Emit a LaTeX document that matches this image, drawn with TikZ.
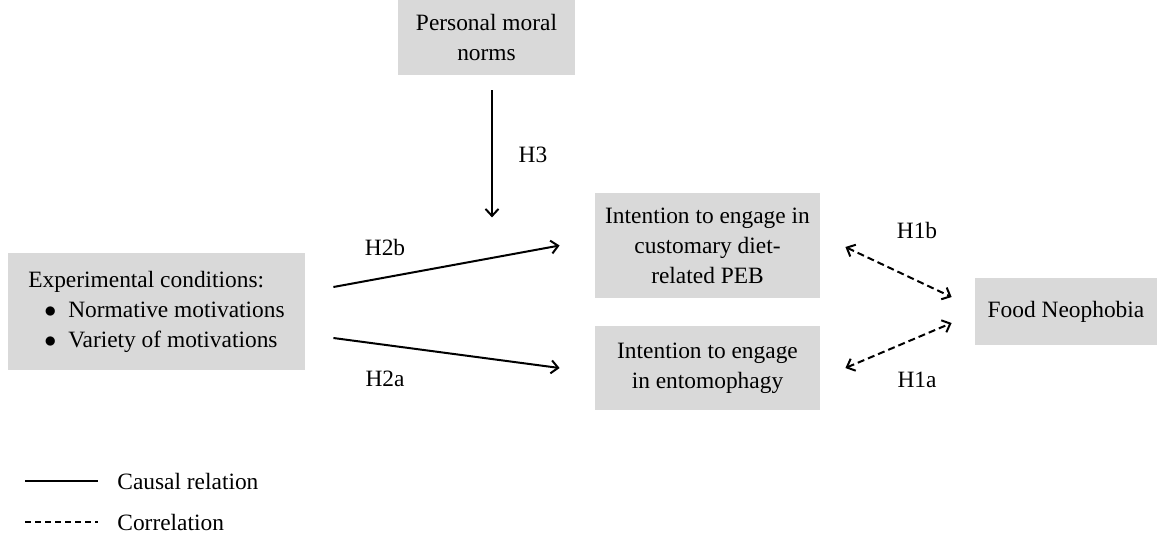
\documentclass[tikz,border=0pt]{standalone}
\usepackage{fontspec}
\setmainfont{Liberation Serif}
\usetikzlibrary{calc,arrows.meta}
\definecolor{boxgray}{RGB}{217,217,217}
\tikzstyle{box} = [rectangle, fill=boxgray, text centered, align=center, inner sep=0pt]
\tikzstyle{arrow} = [line width=1pt,->]
\tikzstyle{corr} = [line width=1pt,<->,dash pattern=on 3.5pt off 2pt]

\begin{document}
\begin{tikzpicture}[x=0.5pt, y=-0.5pt, >={Straight Barb[length=3.5pt,width=6.5pt]}, font=\fontsize{11.7pt}{15pt}\selectfont]
            \useasboundingbox (0,0) rectangle (1159,537);
            \node (norms) [box, minimum width=88.5pt, minimum height=37.5pt] at (486.5,37.5) {
                Personal moral\\
                norms
            };
            \node (cond) [box, align=left, minimum width=148.5pt, minimum height=58.5pt] at (156.5,311.5) {
                Experimental conditions:\\
                \hspace*{8pt}$\bullet$\hspace{6pt}Normative motivations\\
                \hspace*{8pt}$\bullet$\hspace{6pt}Variety of motivations
            };
            \node (cust) [box, minimum width=112.5pt, minimum height=52.5pt] at (707.5,245.5) {
                Intention to engage in\\
                customary diet-\\
                related PEB
            };
            \node (ento) [box, minimum width=112.5pt, minimum height=42pt] at (707.5,368) {
                Intention to engage\\
                in entomophagy
            };
            \node (neo) [box, minimum width=91pt, minimum height=33.5pt] at (1066,311.5) {Food Neophobia};
            % labels
            \node (h3) at (533,155) {H3};
            \node (h2b) at (385,247) {H2b};
            \node (h2a) at (385,379) {H2a};
            \node (h1b) at (917,230) {H1b};
            \node (h1a) at (917,380) {H1a};
            \coordinate (mod) at ($(norms.south)+(5.5,142)$);
            \draw [arrow] ($(norms.south)+(5.5,15)$) -- (mod);
            \draw [arrow] ($(cond.east)+(28,-24.5)$) -- ($(cust.west)+(-35,0)$);
            \draw [arrow] ($(cond.east)+(28,26.5)$) -- ($(ento.west)+(-35,0)$);
            \draw [corr] ($(cust.east)+(25,1.5)$) -- ($(neo.west)+(-23,-14.5)$);
            \draw [corr] ($(ento.east)+(25,0)$) -- ($(neo.west)+(-23,11.5)$);
            % legend
            \node (causal) [anchor=west, inner sep=0pt] at (117,481) {Causal relation};
            \node (correl) [anchor=west, inner sep=0pt] at (117,522) {Correlation};
            \draw [line width=1pt] ($(causal.west)+(-92,0)$) -- ($(causal.west)+(-19,0)$);
            \draw [line width=1pt, dash pattern=on 3pt off 2pt] ($(correl.west)+(-92,0)$) -- ($(correl.west)+(-19,0)$);
\end{tikzpicture}
\end{document}
